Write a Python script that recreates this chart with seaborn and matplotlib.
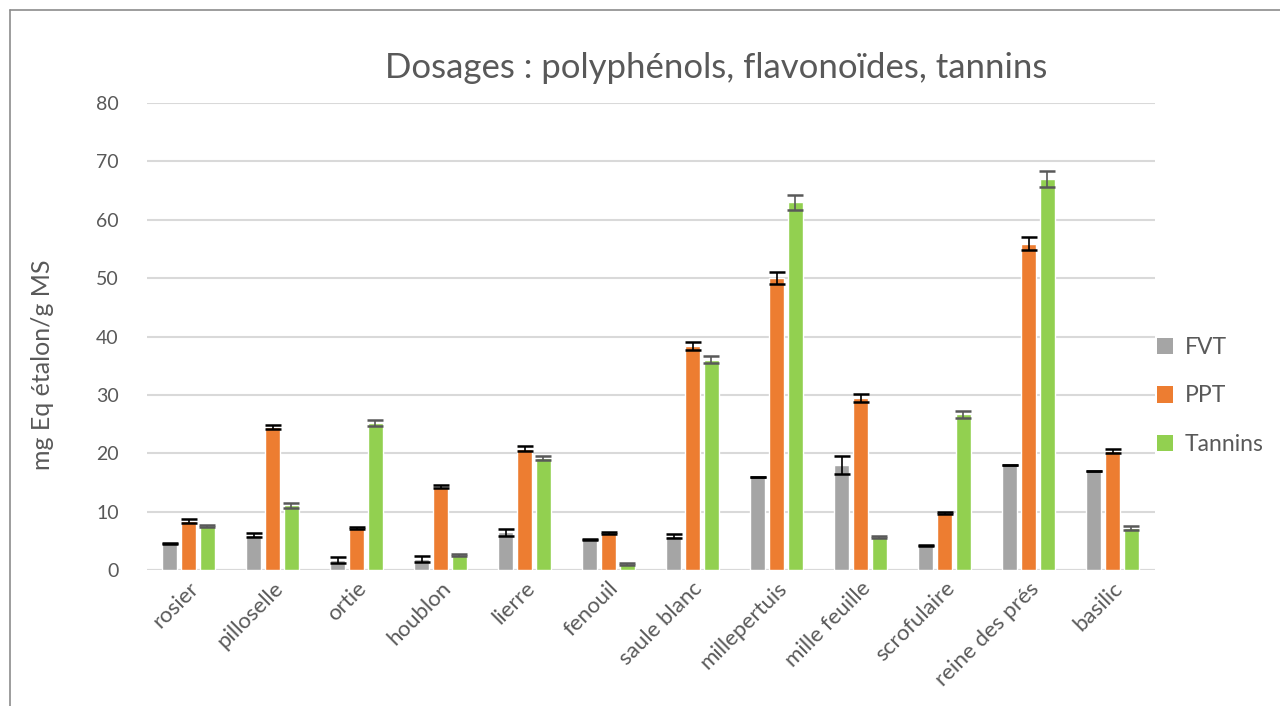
import matplotlib
matplotlib.use("Agg")
import matplotlib.pyplot as plt
from matplotlib.lines import Line2D
from matplotlib.patches import Patch
import seaborn as sns
import pandas as pd
import numpy as np

# Plant extracts and measured contents (mg Eq étalon / g MS)
plantes = ["rosier", "pilloselle", "ortie", "houblon", "lierre", "fenouil",
           "saule blanc", "millepertuis", "mille feuille", "scrofulaire",
           "reine des prés", "basilic"]
fvt = [4.6, 6.0, 1.7, 1.9, 6.5, 5.2, 5.8, 15.9, 18.0, 4.2, 18.0, 17.0]
ppt = [8.4, 24.5, 7.2, 14.3, 20.8, 6.3, 38.4, 50.0, 29.4, 9.8, 55.9, 20.4]
tannins = [7.5, 11.1, 25.2, 2.6, 19.2, 1.0, 36.0, 63.0, 5.7, 26.7, 67.0, 7.2]

# Standard deviations
fvt_err = [0.1, 0.3, 0.5, 0.5, 0.6, 0.1, 0.4, 0.05, 1.6, 0.05, 0.0, 0.0]
ppt_err = [0.3, 0.4, 0.1, 0.2, 0.5, 0.15, 0.7, 1.0, 0.7, 0.2, 1.1, 0.4]
tannins_err = [0.2, 0.4, 0.5, 0.2, 0.4, 0.2, 0.6, 1.3, 0.2, 0.6, 1.4, 0.3]

series = ["FVT", "PPT", "Tannins"]
couleurs = ["#A5A5A5", "#ED7D31", "#92D050"]
err_couleurs = ["#000000", "#000000", "#595959"]

df = pd.DataFrame({
    "plante": plantes * 3,
    "dosage": [s for s in series for _ in plantes],
    "valeur": fvt + ppt + tannins,
})
erreurs = {"FVT": fvt_err, "PPT": ppt_err, "Tannins": tannins_err}

sns.set_theme(style="white")
plt.rcParams["font.family"] = ["Lato", "DejaVu Sans"]
texte = "#595959"

fig = plt.figure(figsize=(12.8, 7.06), dpi=100)
ax = fig.add_axes([146.5 / 1280, 1 - 570 / 706, 1008 / 1280, 467 / 706])

sns.barplot(data=df, x="plante", y="valeur", hue="dosage", order=plantes,
            hue_order=series, palette=couleurs, width=0.667, gap=0.2,
            errorbar=None, saturation=1, ax=ax, legend=False, zorder=3)

for cont, nom, ec in zip(ax.containers, series, err_couleurs):
    xs = [p.get_x() + p.get_width() / 2 for p in cont.patches]
    ys = [p.get_height() for p in cont.patches]
    ax.errorbar(xs, ys, yerr=erreurs[nom], fmt="none", ecolor=ec,
                elinewidth=1.2, capsize=5.5, capthick=1.8, zorder=4)

ax.set_ylim(0, 80)
ax.set_xlim(-0.5, len(plantes) - 0.5)
ax.set_yticks(np.arange(0, 81, 10))
ax.yaxis.grid(True, color="#D9D9D9", linewidth=1.5, zorder=0)
ax.set_axisbelow(True)
for s in ax.spines.values():
    s.set_visible(False)
ax.axhline(0, color="#D9D9D9", linewidth=1.5, zorder=1)
ax.tick_params(axis="y", length=0, labelsize=14, labelcolor=texte, pad=20)
ax.tick_params(axis="x", length=0, labelsize=16, labelcolor=texte, pad=6)
ax.set_xlabel("")
ax.set_ylabel("mg Eq étalon/g MS", fontsize=18, color=texte)
ax.yaxis.set_label_coords(-0.092, 0.44)
for lab in ax.get_xticklabels():
    lab.set_rotation(45)
    lab.set_ha("right")
    lab.set_rotation_mode("anchor")

fig.text(716 / 1280, 1 - 68 / 706, "Dosages : polyphénols, flavonoïdes, tannins",
         ha="center", va="center", fontsize=25, color=texte)

handles = [Patch(facecolor=c, edgecolor="none") for c in couleurs]
fig.legend(handles, series, loc="center left",
           bbox_to_anchor=(1157 / 1280, 1 - 396 / 706), frameon=False,
           borderpad=0, borderaxespad=0,
           fontsize=16.5, labelcolor=texte, handlelength=0.7, handleheight=0.7,
           handletextpad=0.5, labelspacing=1.2)

# Outer chart frame
fig.add_artist(Line2D([10 / 1280, 10 / 1280], [0, 1 - 10 / 706],
                      transform=fig.transFigure, color="#8C8C8C", linewidth=1.2))
fig.add_artist(Line2D([10 / 1280, 1], [1 - 10 / 706, 1 - 10 / 706],
                      transform=fig.transFigure, color="#8C8C8C", linewidth=1.2))

fig.savefig("out.png", dpi=100, facecolor="white")
